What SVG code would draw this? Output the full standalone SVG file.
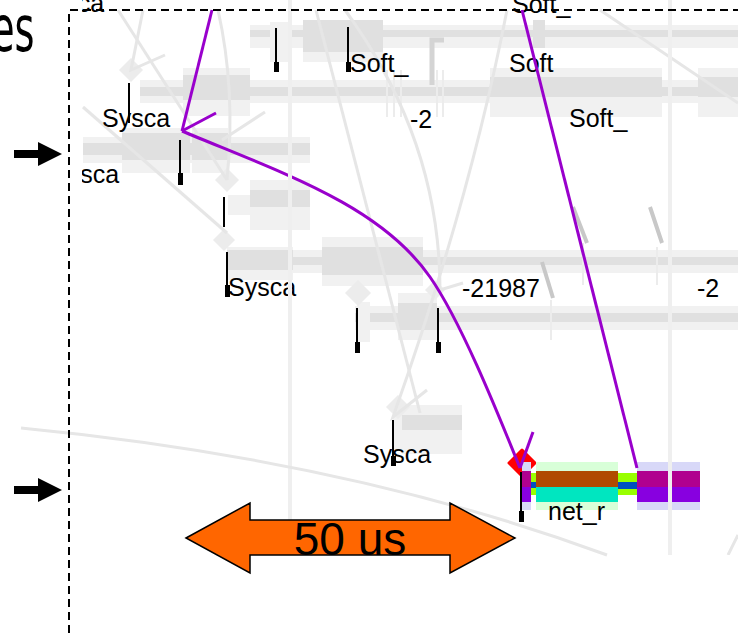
<svg xmlns="http://www.w3.org/2000/svg" width="738" height="633" viewBox="0 0 738 633">
<defs>
<style>
.l{fill:#f1f1f1}
.d{fill:#e0e0e0}
.g{stroke:#e6e6e6;stroke-width:3;fill:none}
.v{stroke:#efefef;stroke-width:4}
.m{stroke:#c8c8c8;stroke-width:4}
.f{stroke:#ececec;stroke-width:2}
.dm{fill:#ececec}
.tk{stroke:#000;stroke-width:2}
.tb{stroke:#000;stroke-width:5}
.t{font-family:"Liberation Sans",Arial,sans-serif;font-size:25px;fill:#000}
.p{stroke:#9900cc;stroke-width:3;fill:none}
</style>
<clipPath id="clip"><rect x="82" y="0" width="656" height="555"/></clipPath>
</defs>
<rect width="738" height="633" fill="#fff"/>

<g id="trace" clip-path="url(#clip)">
  <g id="bands">
    <rect class="l" x="250" y="25" width="488" height="23"/>
    <rect class="d" x="250" y="30" width="488" height="7"/>
    <rect class="l" x="270" y="22" width="20" height="40"/>
    <rect class="l" x="303" y="20" width="80" height="42"/>
    <rect class="d" x="303" y="20" width="80" height="32"/>
    <rect class="d" x="533" y="20" width="12" height="28"/>
    <rect class="l" x="140" y="80" width="598" height="23"/>
    <rect class="d" x="140" y="87" width="598" height="9"/>
    <rect class="l" x="183" y="68" width="67" height="48"/>
    <rect class="d" x="183" y="75" width="67" height="25"/>
    <rect class="l" x="490" y="68" width="172" height="49"/>
    <rect class="d" x="490" y="77" width="172" height="20"/>
    <rect class="l" x="698" y="68" width="40" height="49"/>
    <rect class="d" x="698" y="77" width="40" height="20"/>
    <rect class="l" x="83" y="137" width="227" height="26"/>
    <rect class="d" x="83" y="143" width="227" height="12"/>
    <rect class="l" x="122" y="128" width="68" height="45"/>
    <rect class="d" x="122" y="133" width="68" height="27"/>
    <rect class="l" x="192" y="128" width="36" height="45"/>
    <rect class="d" x="192" y="133" width="36" height="27"/>
    <rect class="l" x="228" y="195" width="82" height="20"/>
    <rect class="l" x="250" y="180" width="60" height="50"/>
    <rect class="d" x="250" y="190" width="60" height="17"/>
    <rect class="l" x="228" y="250" width="510" height="23"/>
    <rect class="d" x="228" y="257" width="510" height="8"/>
    <rect class="l" x="227" y="247" width="66" height="33"/>
    <rect class="d" x="227" y="250" width="66" height="20"/>
    <rect class="l" x="322" y="237" width="101" height="49"/>
    <rect class="d" x="322" y="247" width="101" height="28"/>
    <rect class="l" x="355" y="306" width="383" height="24"/>
    <rect class="d" x="355" y="313" width="383" height="9"/>
    <rect class="l" x="357" y="302" width="13" height="40"/>
    <rect class="l" x="398" y="293" width="39" height="47"/>
    <rect class="d" x="398" y="303" width="39" height="27"/>
    <rect class="l" x="393" y="415" width="9" height="35"/>
    <rect class="l" x="402" y="405" width="60" height="49"/>
    <rect class="d" x="402" y="415" width="60" height="15"/>
  </g>
  <g id="marks">
    <polygon class="dm" points="131,58 143,70 131,82 119,70"/>
    <polygon class="dm" points="227,168 239,180 227,192 215,180"/>
    <polygon class="dm" points="224,229 235,240 224,251 213,240"/>
    <polygon class="dm" points="358,280 371,293 358,306 345,293"/>
    <polygon class="dm" points="435,280 445,290 435,300 425,290"/>
    <polygon class="dm" points="398,395 410,407 398,419 386,407"/>
    <line class="m" x1="542" y1="262" x2="553" y2="298"/>
    <line class="f" x1="551" y1="300" x2="551" y2="340"/>
    <line class="m" x1="573" y1="207" x2="587" y2="243"/>
    <line class="f" x1="583" y1="243" x2="583" y2="285"/>
    <line class="m" x1="650" y1="207" x2="662" y2="243"/>
    <line class="f" x1="657" y1="247" x2="657" y2="285"/>
    <path d="M444,40 L432,40 L432,85" stroke="#d4d4d4" stroke-width="5" fill="none"/>
    <line class="f" x1="387" y1="70" x2="387" y2="117"/>
    <line class="f" x1="394" y1="70" x2="394" y2="117"/>
    <line class="f" x1="401" y1="70" x2="401" y2="117"/>
    <line class="f" x1="437" y1="70" x2="437" y2="117"/>
    <line class="f" x1="443" y1="70" x2="443" y2="117"/>
  </g>
  <g id="graylines">
    <path class="g" d="M118,10 L227,180"/>
    <path class="g" d="M143,10 L131,70 L165,55"/>
    <path class="g" d="M83,107 L227,233"/>
    <path class="g" d="M222,140 L265,112"/>
    <path class="g" d="M218,10 Q236,90 227,180"/>
    <path class="g" d="M316,10 L420,413"/>
    <path class="g" d="M507,10 Q470,200 393,417 L427,390"/>
    <path class="g" d="M345,10 Q440,140 440,290 L463,283"/>
    <path class="g" d="M600,10 L738,103"/>
    <path class="g" d="M728,555 L738,535"/>
  </g>
  <g id="labels">
    <text class="t" x="36" y="12">Sysca</text>
    <text class="t" x="512" y="13">Soft_</text>
    <text class="t" x="350" y="72">Soft_</text>
    <text class="t" x="509" y="72">Soft</text>
    <text class="t" x="102" y="127">Sysca</text>
    <text class="t" x="410" y="128">-2</text>
    <text class="t" x="569" y="127">Soft_</text>
    <text class="t" x="51" y="183">Sysca</text>
    <text class="t" x="228" y="296">Sysca</text>
    <text class="t" x="462" y="297">-21987</text>
    <text class="t" x="697" y="297">-2</text>
    <text class="t" x="363" y="463">Sysca</text>
  </g>
  <g id="ticks">
    <line class="tk" x1="276" y1="28" x2="276" y2="72"/><line class="tb" x1="276.5" y1="62" x2="276.5" y2="72"/>
    <line class="tk" x1="348" y1="27" x2="348" y2="72"/><line class="tb" x1="348.5" y1="62" x2="348.5" y2="72"/>
    <line class="tk" x1="129" y1="83" x2="129" y2="123"/>
    <line class="tk" x1="180" y1="140" x2="180" y2="185"/><line class="tb" x1="180.5" y1="173" x2="180.5" y2="185"/>
    <line class="tk" x1="224" y1="197" x2="224" y2="227"/>
    <line class="tk" x1="227" y1="252" x2="227" y2="297"/><line class="tb" x1="227.5" y1="285" x2="227.5" y2="297"/>
    <line class="tk" x1="357" y1="308" x2="357" y2="353"/><line class="tb" x1="357.5" y1="342" x2="357.5" y2="353"/>
    <line class="tk" x1="438" y1="308" x2="438" y2="353"/><line class="tb" x1="438.5" y1="342" x2="438.5" y2="353"/>
    <line class="tk" x1="393" y1="420" x2="393" y2="466"/><line class="tb" x1="393.5" y1="456" x2="393.5" y2="466"/>
  </g>
  <g id="net_r">
    <polygon points="522,450 535,463 522,476 509,463" fill="#ff0000" stroke="#ff0000" stroke-width="3" stroke-linejoin="round"/>
    <line class="tk" x1="521" y1="472" x2="521" y2="522"/><line class="tb" x1="521.5" y1="511" x2="521.5" y2="522"/>
    <rect x="522" y="462" width="9" height="48" fill="#d8d8f8"/>
    <rect x="522" y="471" width="9" height="16" fill="#b0008f"/>
    <rect x="522" y="487" width="9" height="15" fill="#8800e0"/>
    <rect x="531" y="473" width="6" height="22" fill="#99ff00"/>
    <rect x="531" y="482" width="6" height="6" fill="#0050c0"/>
    <rect x="536" y="462" width="82" height="48" fill="#d8ffd8"/>
    <rect x="536" y="471" width="82" height="16" fill="#b04a00"/>
    <rect x="536" y="487" width="82" height="15" fill="#00e6c0"/>
    <rect x="618" y="473" width="19" height="22" fill="#99ff00"/>
    <rect x="618" y="482" width="19" height="7" fill="#0050c0"/>
    <rect x="637" y="462" width="31" height="48" fill="#d8d8f8"/>
    <rect x="637" y="471" width="31" height="16" fill="#b0008f"/>
    <rect x="637" y="487" width="31" height="15" fill="#8800e0"/>
    <rect x="672" y="462" width="28" height="48" fill="#d8d8f8"/>
    <rect x="672" y="471" width="28" height="16" fill="#b0008f"/>
    <rect x="672" y="487" width="28" height="15" fill="#8800e0"/>
    <text class="t" x="548" y="520">net_r</text>
  </g>
  <g id="connectors">
    <path class="p" d="M212,10 L182,131"/>
    <path class="p" d="M182,131 C282,173 380,205 430,277 C460,320 495,406 520,468"/>
    <path class="p" d="M182,131 L216,113"/>
    <path class="p" d="M520,468 L533,432"/>
    <path class="p" d="M522,10 L637,468"/>
  </g>
  <g id="verticals">
    <line class="v" x1="290" y1="0" x2="290" y2="555"/>
    <line class="v" x1="670" y1="0" x2="670" y2="555"/>
  </g>
</g>

<path class="g" d="M21,428 Q350,460 607,555"/>

<g id="scale-arrow">
  <polygon points="186,538 250,503 250,520 450,520 450,503 515,538 450,573 450,555 250,555 250,573" fill="#ff6600" stroke="#000" stroke-width="1.5" stroke-linejoin="miter"/>
  <text x="350" y="555" text-anchor="middle" font-family="Liberation Sans, Arial, sans-serif" font-size="46" fill="#000">50 us</text>
</g>

<g id="frame">
  <path d="M69,633 L69,10 L738,10" fill="none" stroke="#000" stroke-width="2" stroke-dasharray="8,5"/>
</g>

<g id="pointers">
  <polygon points="14,150 38,150 38,142 62,154 38,166 38,158 14,158" fill="#000"/>
  <polygon points="14,486 38,486 38,478 62,490 38,502 38,494 14,494" fill="#000"/>
</g>

<text transform="translate(-9,51) scale(0.6,1)" font-family="DejaVu Sans, sans-serif" font-size="64" fill="#000">es</text>
</svg>
